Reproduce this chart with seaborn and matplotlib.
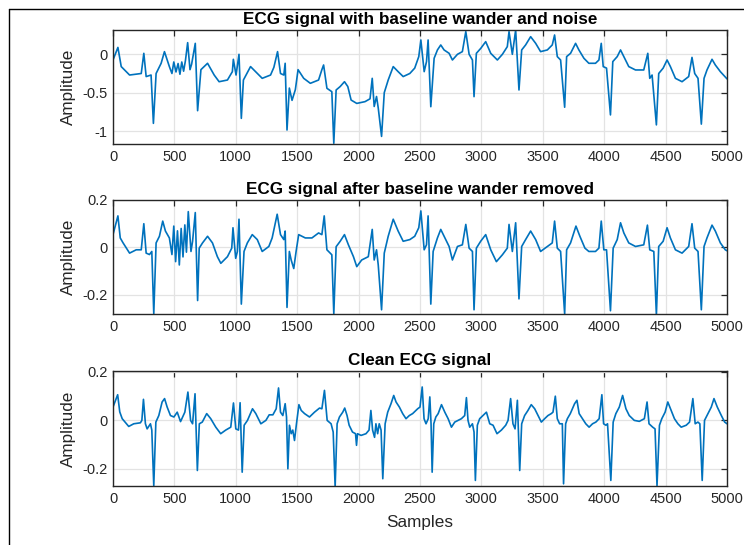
import matplotlib
matplotlib.use("Agg")
import matplotlib.pyplot as plt
from matplotlib.lines import Line2D
import seaborn as sns
import pandas as pd

# ---------------- data ----------------
noisy_x = [0, 40, 67, 135, 230, 251, 270, 310, 329, 351, 392, 419, 459, 480, 495, 513, 530, 545, 560, 575, 590,
           608, 627, 640, 670, 689, 716, 770, 824, 864, 932, 972, 980, 1002, 1026, 1045, 1062, 1120, 1161, 1215,
           1283, 1310, 1340, 1364, 1391, 1402, 1417, 1436, 1458, 1485, 1507, 1553, 1607, 1674, 1701, 1715, 1742,
           1782, 1798, 1817, 1850, 1885, 1912, 1939, 1985, 2052, 2093, 2111, 2127, 2146, 2160, 2187, 2209, 2241,
           2282, 2322, 2363, 2417, 2457, 2490, 2507, 2534, 2553, 2566, 2588, 2615, 2642, 2669, 2696, 2737, 2764,
           2805, 2845, 2873, 2900, 2927, 2940, 2959, 2995, 3035, 3076, 3130, 3171, 3211, 3225, 3252, 3279, 3306,
           3328, 3360, 3401, 3442, 3482, 3537, 3577, 3596, 3618, 3645, 3678, 3694, 3726, 3767, 3794, 3835, 3875,
           3929, 3957, 3976, 3992, 4019, 4051, 4070, 4106, 4133, 4160, 4200, 4255, 4322, 4355, 4371, 4390, 4425,
           4444, 4480, 4512, 4539, 4580, 4634, 4688, 4715, 4737, 4764, 4791, 4813, 4837, 4878, 4905, 4946, 5000]
noisy_y = [-0.074, 0.09, -0.16, -0.27, -0.25, 0.013, -0.29, -0.27, -0.9, -0.25, -0.117, 0.035, -0.16, -0.25, -0.1,
           -0.23, -0.12, -0.26, -0.1, -0.22, -0.08, 0.152, -0.2, -0.13, 0.143, -0.735, -0.2, -0.117, -0.27, -0.357,
           -0.335, -0.226, -0.065, -0.27, 0.0, -0.835, -0.335, -0.16, -0.226, -0.313, -0.27, -0.17, 0.035, -0.25,
           -0.27, -0.117, -0.987, -0.44, -0.6, -0.46, -0.2, -0.313, -0.378, -0.335, -0.2, -0.139, -0.443, -0.487,
           -1.16, -0.465, -0.42, -0.357, -0.42, -0.596, -0.64, -0.617, -0.58, -0.313, -0.68, -0.55, -0.7, -1.07,
           -0.5, -0.335, -0.16, -0.226, -0.29, -0.25, -0.18, -0.03, 0.187, -0.226, -0.095, 0.187, -0.683, -0.052,
           0.057, 0.122, 0.057, 0.013, -0.074, 0.0, 0.035, 0.296, 0.0, -0.074, -0.552, 0.013, 0.078, 0.165, 0.013,
           -0.074, 0.0, 0.1, 0.296, 0.0, 0.317, -0.465, 0.057, 0.122, 0.23, 0.143, 0.035, 0.057, 0.122, 0.252,
           -0.03, -0.074, -0.69, -0.03, 0.013, 0.143, 0.057, -0.052, -0.117, -0.117, -0.074, 0.143, -0.16, -0.18,
           -0.79, -0.095, -0.03, 0.057, -0.03, -0.16, -0.204, -0.204, 0.013, -0.313, -0.27, -0.92, -0.25, -0.18,
           -0.074, -0.16, -0.313, -0.357, -0.29, -0.04, -0.25, -0.313, -0.91, -0.313, -0.204, -0.065, -0.139,
           -0.226, -0.32]

removed_x = [0, 40, 59, 81, 135, 189, 230, 251, 270, 297, 316, 332, 351, 378, 405, 427, 459, 480, 495, 510, 525,
             540, 555, 570, 585, 598, 613, 635, 648, 670, 689, 702, 729, 770, 810, 850, 878, 932, 967, 977, 999,
             1013, 1026, 1045, 1067, 1094, 1134, 1175, 1215, 1269, 1296, 1337, 1364, 1391, 1402, 1417, 1436, 1451,
             1472, 1491, 1512, 1566, 1620, 1674, 1701, 1720, 1742, 1782, 1798, 1817, 1850, 1885, 1917, 1958, 1985,
             2025, 2079, 2111, 2127, 2146, 2160, 2187, 2209, 2241, 2282, 2322, 2363, 2417, 2457, 2490, 2507, 2534,
             2553, 2566, 2588, 2607, 2642, 2669, 2696, 2737, 2764, 2805, 2845, 2873, 2900, 2927, 2940, 2959, 2994,
             3035, 3076, 3122, 3171, 3211, 3225, 3252, 3279, 3306, 3328, 3360, 3401, 3442, 3482, 3537, 3577, 3596,
             3618, 3645, 3678, 3694, 3726, 3770, 3802, 3843, 3875, 3929, 3957, 3976, 3997, 4019, 4051, 4073, 4106,
             4133, 4160, 4200, 4255, 4322, 4352, 4371, 4404, 4425, 4444, 4480, 4512, 4539, 4580, 4634, 4688, 4715,
             4737, 4764, 4791, 4813, 4837, 4878, 4905, 4946, 4986, 5000]
removed_y = [0.054, 0.133, 0.04, 0.02, -0.024, -0.01, -0.01, 0.1, -0.024, -0.03, -0.017, -0.28, 0.019, 0.047,
             0.111, 0.069, 0.04, -0.03, 0.09, -0.06, 0.07, -0.074, 0.08, -0.04, 0.095, -0.02, 0.151, -0.017, 0.026,
             0.147, -0.224, -0.003, 0.019, 0.047, 0.019, -0.039, -0.067, -0.039, -0.003, 0.083, -0.046, -0.017,
             0.119, -0.239, -0.017, 0.019, 0.054, 0.033, -0.017, 0.004, 0.04, 0.14, 0.054, 0.033, 0.069, -0.253,
             -0.017, -0.053, -0.089, -0.017, 0.054, 0.04, 0.04, 0.061, 0.054, 0.133, -0.01, -0.031, -0.28, 0.003,
             0.026, 0.054, 0.011, -0.039, -0.081, -0.053, -0.039, 0.076, -0.053, -0.01, -0.074, -0.263, -0.024,
             0.047, 0.119, 0.069, 0.026, 0.033, 0.047, 0.083, 0.154, -0.01, 0.011, 0.133, -0.239, -0.017, 0.04,
             0.076, 0.047, 0.004, -0.053, 0.004, 0.011, 0.097, -0.003, -0.017, -0.263, -0.003, 0.026, 0.054, -0.01,
             -0.06, -0.031, -0.003, 0.097, -0.017, 0.104, -0.217, 0.004, 0.033, 0.069, 0.033, -0.017, 0.004, 0.019,
             0.111, -0.003, -0.017, -0.281, -0.01, 0.019, 0.09, 0.047, -0.003, -0.017, -0.017, -0.003, 0.111,
             -0.01, -0.01, -0.267, -0.003, 0.033, 0.104, 0.061, 0.019, 0.004, 0.011, 0.094, -0.01, -0.017, -0.286,
             0.004, 0.026, 0.083, 0.04, -0.01, -0.024, 0.004, 0.1, -0.003, -0.017, -0.263, 0.004, 0.04, 0.094,
             0.069, 0.019, -0.01, -0.014]

clean_x = [0, 38, 55, 75, 128, 169, 223, 235, 248, 264, 278, 305, 316, 332, 349, 373, 400, 420, 441, 468, 496, 523,
           550, 585, 610, 632, 648, 668, 687, 703, 727, 763, 796, 837, 877, 918, 959, 981, 1000, 1022, 1035, 1052,
           1068, 1095, 1136, 1163, 1204, 1245, 1272, 1302, 1329, 1348, 1364, 1383, 1402, 1413, 1424, 1437, 1451,
           1464, 1478, 1494, 1514, 1533, 1560, 1600, 1641, 1682, 1701, 1722, 1744, 1776, 1793, 1809, 1825, 1844,
           1871, 1887, 1906, 1923, 1950, 1975, 1983, 1991, 2020, 2060, 2085, 2100, 2114, 2130, 2141, 2155, 2168,
           2183, 2197, 2216, 2237, 2264, 2286, 2305, 2332, 2359, 2386, 2413, 2440, 2481, 2500, 2518, 2533, 2549,
           2567, 2580, 2590, 2599, 2612, 2629, 2648, 2675, 2702, 2729, 2756, 2783, 2810, 2837, 2864, 2878, 2891,
           2905, 2927, 2940, 2951, 2967, 2986, 3013, 3041, 3068, 3095, 3127, 3163, 3198, 3217, 3238, 3257, 3274,
           3293, 3312, 3328, 3352, 3379, 3406, 3434, 3461, 3488, 3515, 3542, 3569, 3583, 3602, 3618, 3637, 3659,
           3669, 3686, 3700, 3724, 3759, 3778, 3796, 3823, 3850, 3877, 3905, 3932, 3959, 3981, 3995, 4014, 4027,
           4054, 4073, 4095, 4123, 4150, 4177, 4204, 4245, 4286, 4327, 4349, 4365, 4395, 4414, 4430, 4450, 4469,
           4496, 4518, 4545, 4572, 4600, 4627, 4668, 4695, 4722, 4741, 4763, 4779, 4798, 4817, 4845, 4872, 4894,
           4921, 4954, 4981, 5000]
clean_y = [0.055, 0.106, 0.035, 0.007, -0.025, -0.014, -0.01, 0.0, 0.087, -0.014, -0.035, -0.014, -0.04, -0.27,
           -0.007, 0.02, 0.076, 0.09, 0.055, 0.02, 0.014, 0.034, -0.005, 0.034, 0.117, 0.0, -0.014, 0.11, -0.207,
           -0.014, -0.007, 0.028, 0.007, -0.028, -0.055, -0.04, -0.028, 0.072, -0.035, -0.04, 0.073, -0.214, -0.02,
           0.0, 0.048, 0.028, -0.014, 0.0, 0.023, 0.023, 0.048, 0.134, 0.034, 0.02, 0.069, 0.014, -0.2, -0.02,
           -0.055, -0.04, -0.083, -0.014, 0.065, 0.041, 0.028, 0.014, 0.034, 0.051, 0.048, 0.124, 0.0, -0.014,
           -0.048, -0.275, -0.014, 0.014, 0.034, 0.051, 0.02, -0.02, -0.048, -0.055, -0.103, -0.055, -0.062, -0.055,
           -0.04, 0.041, -0.04, -0.07, -0.014, -0.055, -0.014, -0.04, -0.241, -0.014, 0.034, 0.069, 0.103, 0.076,
           0.055, 0.028, 0.007, 0.02, 0.028, 0.048, 0.055, 0.138, 0.007, -0.014, 0.007, 0.097, -0.014, -0.214,
           -0.014, 0.014, 0.028, 0.065, 0.034, 0.007, -0.028, -0.007, 0.0, 0.007, 0.02, 0.094, 0.0, -0.028, -0.014,
           -0.048, -0.248, -0.02, 0.007, 0.02, 0.034, -0.014, -0.02, -0.055, -0.04, -0.02, 0.0, 0.09, -0.014,
           -0.035, 0.083, -0.207, -0.014, 0.02, 0.041, 0.065, 0.048, 0.02, -0.007, 0.007, 0.02, 0.028, 0.034, 0.1,
           0.007, -0.014, -0.014, -0.262, -0.014, 0.007, 0.028, 0.069, 0.083, 0.028, 0.007, -0.014, -0.028, -0.014,
           -0.007, 0.007, 0.106, -0.014, -0.02, -0.014, -0.248, -0.007, 0.028, 0.055, 0.103, 0.048, 0.02, 0.0,
           -0.004, 0.007, 0.076, -0.014, -0.028, -0.035, -0.27, -0.02, 0.007, 0.034, 0.076, 0.041, 0.007, -0.014,
           -0.028, -0.02, -0.007, 0.09, -0.014, -0.007, -0.014, -0.248, 0.0, 0.028, 0.055, 0.09, 0.055, 0.02,
           -0.007, -0.014]

titles = ["ECG signal with baseline wander and noise",
          "ECG signal after baseline wander removed",
          "Clean ECG signal"]
y_ticks = [[-1, -0.5, 0], [-0.2, 0, 0.2], [-0.2, 0, 0.2]]
y_ticklabels = [["-1", "-0.5", "0"], ["-0.2", "0", "0.2"], ["-0.2", "0", "0.2"]]
y_limits = [(-1.173, 0.317), (-0.282, 0.2), (-0.271, 0.204)]
x_ticks = list(range(0, 5001, 500))

# ---------------- style ----------------
sns.set_style("white")
plt.rcParams["font.family"] = ["Liberation Sans", "DejaVu Sans"]
plt.rcParams["axes.unicode_minus"] = False

LINE = "#0072BD"
AXC = "#262626"

fig = plt.figure(figsize=(7.44, 5.45), dpi=100)
fig.patch.set_facecolor("white")

positions = [
    [113 / 744, 1 - 144.3 / 545, 614 / 744, 114.3 / 545],
    [113 / 744, 1 - 314.3 / 545, 614 / 744, 114.3 / 545],
    [113 / 744, 1 - 486.0 / 545, 614 / 744, 115.0 / 545],
]
series = [(noisy_x, noisy_y), (removed_x, removed_y), (clean_x, clean_y)]

for i, (pos, (xs, ys)) in enumerate(zip(positions, series)):
    ax = fig.add_axes(pos)
    df = pd.DataFrame({"Samples": xs, "Amplitude": ys})
    sns.lineplot(data=df, x="Samples", y="Amplitude", ax=ax, color=LINE,
                 linewidth=1.2, estimator=None, sort=False)
    ax.set_xlim(0, 5000)
    ax.set_ylim(*y_limits[i])
    ax.set_xticks(x_ticks)
    ax.set_xticklabels([str(t) for t in x_ticks])
    ax.set_yticks(y_ticks[i])
    ax.set_yticklabels(y_ticklabels[i])
    ax.grid(True, color="#e3e3e3", linewidth=0.9)
    ax.set_axisbelow(True)
    for s in ax.spines.values():
        s.set_color(AXC)
        s.set_linewidth(1.0)
        s.set_visible(True)
    ax.tick_params(direction="in", top=True, right=True, length=4, width=0.9,
                   colors=AXC, labelsize=10.5, pad=4)
    ax.set_title(titles[i], fontsize=12.3, fontweight="bold", color="black", pad=4)
    ax.set_ylabel("Amplitude", fontsize=12.3, color=AXC, va="center")
    ax.yaxis.set_label_coords((68 - 113) / 614, 0.5)
    if i == 2:
        ax.set_xlabel("Samples", fontsize=12.3, color=AXC, va="center")
        ax.xaxis.set_label_coords(0.5, (486 - 522) / 115)
    else:
        ax.set_xlabel("")

# figure frame lines (top and left border of the screenshot)
fig.add_artist(Line2D([9 / 744, 9 / 744], [0, 1 - 9 / 545], transform=fig.transFigure,
                      color="black", linewidth=1.0))
fig.add_artist(Line2D([9 / 744, 1], [1 - 9 / 545, 1 - 9 / 545], transform=fig.transFigure,
                      color="black", linewidth=1.0))

fig.savefig("out.png", dpi=100, facecolor="white")
